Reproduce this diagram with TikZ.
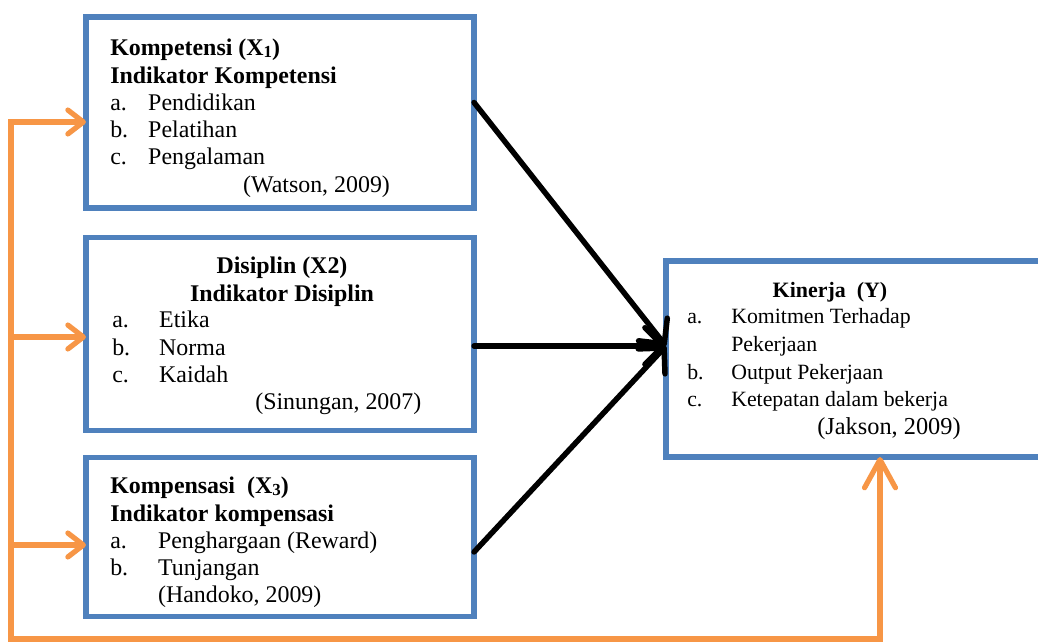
\documentclass[tikz,border=0pt]{standalone}
\usepackage{fontspec}
\setmainfont{Liberation Serif}
\usetikzlibrary{arrows.meta,calc}
\definecolor{boxBlue}{RGB}{79,129,189}
\definecolor{feedOrange}{RGB}{247,150,70}
\newcommand{\itm}[3][27pt]{\makebox[#1][l]{#2}#3}
\newcommand{\sbs}[1]{\raisebox{-1pt}{\fontsize{12}{12}\selectfont #1}}

\begin{document}
\begin{tikzpicture}[x=0.025cm,y=-0.025cm,
  vbox/.style={rectangle,draw=boxBlue,line width=4.2pt,fill=white,inner sep=0pt,outer sep=0pt},
  txt/.style={font=\fontsize{17}{19.4}\selectfont,inner sep=0pt,align=left,anchor=north west},
  ttl/.style={font=\fontsize{17}{19.4}\selectfont\bfseries,inner sep=0pt,align=center,anchor=north},
  shd/.style={preaction={draw=black!30,transform canvas={xshift=1pt,yshift=-1pt}}},
  eff/.style={-{Straight Barb[length=13pt,width=26pt,line cap=round,line join=round]},line width=3.9pt,black,line cap=round,shd},
  feed/.style={line width=3.7pt,feedOrange,shd},
  tipS/.style={-{Straight Barb[length=11pt,width=17pt,line cap=round,line join=round]}}
]
  \useasboundingbox (0,0) rectangle (1038,642);
  % blocks
  \node[vbox,minimum width=9.7cm,minimum height=4.775cm] (kom) at (280,112.5) {};
  \node[vbox,minimum width=9.7cm,minimum height=4.825cm] (dis) at (280,334) {};
  \node[vbox,minimum width=9.7cm,minimum height=3.975cm] (kmp) at (280,537) {};
  \node[vbox,minimum width=9.475cm,minimum height=4.9cm] (kin) at (855.5,359) {};
  % texts
  \node[txt] (komTxt) at (110,39) {\textbf{Kompetensi (X\sbs{1})}\\
    \textbf{Indikator Kompetensi}\\ \itm{a.}{Pendidikan}\\ \itm{b.}{Pelatihan}\\
    \itm{c.}{Pengalaman}\\ \hspace*{94.5pt}(Watson, 2009)};
  \node[ttl] (disTtl) at (282,257) {Disiplin (X2)\\ Indikator Disiplin};
  \node[txt] (disTxt) at (112,311) {\itm[33.4pt]{a.}{Etika}\\ \itm[33.4pt]{b.}{Norma}\\
    \itm[33.4pt]{c.}{Kaidah}\\ \hspace*{101.7pt}(Sinungan, 2007)};
  \node[txt] (kmpTxt) at (110,477) {\textbf{Kompensasi\ \ (X\sbs{3})}\\
    \textbf{Indikator kompensasi}\\ \itm[34pt]{a.}{Penghargaan (Reward)}\\
    \itm[34pt]{b.}{Tunjangan}\\ \hspace*{34pt}(Handoko, 2009)};
  \node[ttl,font=\fontsize{15.6}{19.4}\selectfont\bfseries] (kinTtl) at (830,282) {Kinerja\ \ (Y)};
  \node[txt,font=\fontsize{15.5}{19.8}\selectfont] (kinTxt) at (687,308) {\itm[31.3pt]{a.}{Komitmen Terhadap}\\
    \hspace*{31.3pt}Pekerjaan\\ \itm[31.3pt]{b.}{Output Pekerjaan}\\
    \itm[31.3pt]{c.}{Ketepatan dalam bekerja}\\ \hspace*{92.5pt}{\fontsize{17.3}{19.8}\selectfont(Jakson, 2009)}};
  % influence arrows
  \coordinate (hub) at ($(kin.west)+(0,-13)$);
  \draw[eff] ($(kom.east)+(0,-10)$) -- (hub);
  \draw[eff] (dis.east |- hub) -- (hub);
  \draw[eff] ($(kmp.east)+(0,15)$) -- (hub);
  % feedback loop
  \coordinate (t1) at (11,122);
  \coordinate (t2) at (11,337);
  \coordinate (t3) at (11,545);
  \coordinate (bl) at (11,639);
  \coordinate (br) at (880,639);
  \draw[feed,{Straight Barb[length=11pt,width=17pt,line cap=round,line join=round]}-{Straight Barb[length=20pt,width=22pt,line cap=round,line join=round]}]
    (kom.west |- t1) -- (t1) -- (bl) -- (br) -- (br |- kin.south);
  \draw[feed,tipS] (t2) -- (dis.west |- t2);
  \draw[feed,tipS] (t3) -- (kmp.west |- t3);
\end{tikzpicture}
\end{document}
